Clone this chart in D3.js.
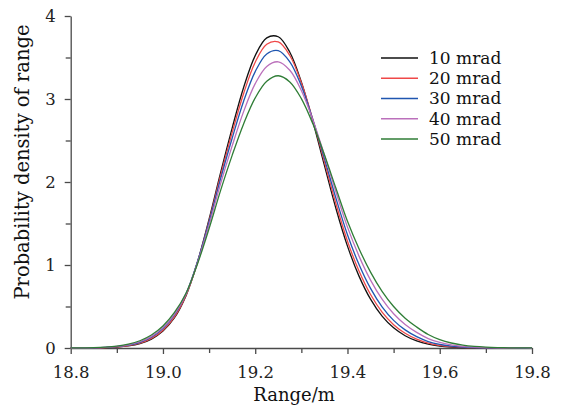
<!DOCTYPE html>
<html><head><meta charset="utf-8">
<script src="https://cdn.jsdelivr.net/npm/d3@7/dist/d3.min.js"></script>
<style>body{margin:0;background:#fff}svg{display:block}</style>
</head><body><svg id="c" width="564" height="405"></svg>
<script>
// Range values (m)
const xValues = [18.800,18.825,18.850,18.875,18.900,18.925,18.950,18.975,19.000,19.025,19.050,19.075,19.100,19.125,19.150,19.175,19.200,19.225,19.250,19.275,19.300,19.325,19.350,19.375,19.400,19.425,19.450,19.475,19.500,19.525,19.550,19.575,19.600,19.625,19.650,19.675,19.700,19.725,19.750,19.775,19.800];
// Probability density for each divergence angle
const density10 = [0.0002,0.0006,0.0017,0.0044,0.0107,0.0247,0.0532,0.1077,0.2046,0.3646,0.631,1.039,1.552,2.114,2.650,3.142,3.523,3.737,3.750,3.563,3.205,2.729,2.201,1.681,1.227,0.866,0.588,0.384,0.243,0.148,0.0854,0.0453,0.0229,0.0110,0.0051,0.0022,0.0009,0.0004,0.0001,0,0];
const density20 = [0.0003,0.0008,0.0021,0.0052,0.0124,0.0277,0.0583,0.1153,0.2147,0.3758,0.636,1.035,1.532,2.078,2.594,3.070,3.443,3.660,3.687,3.524,3.196,2.750,2.244,1.738,1.287,0.927,0.644,0.432,0.281,0.178,0.1064,0.0586,0.0308,0.0155,0.0074,0.0034,0.0015,0.0006,0.0002,0.0001,0];
const density30 = [0.0004,0.0011,0.0029,0.0069,0.0156,0.0335,0.0678,0.1298,0.2341,0.399,0.654,1.042,1.518,2.040,2.527,2.976,3.330,3.543,3.583,3.448,3.157,2.752,2.284,1.804,1.364,1.006,0.718,0.496,0.333,0.218,0.1361,0.0782,0.0430,0.0226,0.0114,0.0055,0.0025,0.0011,0.0005,0.0002,0.0001];
const density40 = [0.0006,0.0015,0.0037,0.0085,0.0185,0.0383,0.0752,0.1395,0.2455,0.409,0.652,1.028,1.484,1.982,2.435,2.851,3.185,3.393,3.448,3.346,3.102,2.747,2.324,1.879,1.456,1.107,0.818,0.588,0.412,0.283,0.1878,0.1141,0.0667,0.0374,0.0202,0.0105,0.0052,0.0025,0.0012,0.0005,0.0002];
const density50 = [0.0009,0.0022,0.0051,0.0112,0.0234,0.0463,0.0872,0.1559,0.2651,0.428,0.659,1.015,1.440,1.899,2.321,2.703,3.013,3.214,3.280,3.206,3.005,2.701,2.328,1.924,1.526,1.196,0.914,0.683,0.500,0.359,0.253,0.1626,0.1008,0.0603,0.0348,0.0194,0.0105,0.0054,0.0027,0.0013,0.0006];

const seriesNames = ["10 mrad","20 mrad","30 mrad","40 mrad","50 mrad"];
const seriesColors = ["#111111","#ef4848","#1f56b0","#bb70bb","#2f7d36"];
const seriesData = [density10,density20,density30,density40,density50];

const xTickValues = [18.8,19.0,19.2,19.4,19.6,19.8];
const xMinorTicks = [18.9,19.1,19.3,19.5,19.7];
const yTickValues = [0,1,2,3,4];
const yMinorTicks = [0.5,1.5,2.5,3.5];
const xTitle = "Range/m";
const yTitle = "Probability density of range";

const svg = d3.select("#c");
const FONT = "'DejaVu Serif', serif";
const axisColor = "#4a4a4a";

const x = d3.scaleLinear().domain([18.8,19.8]).range([70.7,532]);
const y = d3.scaleLinear().domain([0,4]).range([348,16]);

function styleAxis(g){
  g.select(".domain").attr("stroke",axisColor).attr("stroke-width",1.3);
  g.selectAll(".tick line").attr("stroke",axisColor).attr("stroke-width",1.3);
  g.selectAll(".tick text").attr("fill","#222").style("font-family",FONT);
}

// minor ticks
svg.append("g").attr("transform","translate(0,348)")
  .call(d3.axisBottom(x).tickValues(xMinorTicks).tickSize(5).tickFormat(""))
  .call(g=>{g.select(".domain").remove(); g.selectAll(".tick line").attr("stroke",axisColor).attr("stroke-width",1.3);});
svg.append("g").attr("transform","translate(70.7,0)")
  .call(d3.axisLeft(y).tickValues(yMinorTicks).tickSize(5).tickFormat(""))
  .call(g=>{g.select(".domain").remove(); g.selectAll(".tick line").attr("stroke",axisColor).attr("stroke-width",1.3);});

// major axes
svg.append("g").attr("transform","translate(0,348)")
  .call(d3.axisBottom(x).tickValues(xTickValues).tickFormat(d3.format(".1f")).tickSize(6).tickSizeOuter(0).tickPadding(12))
  .call(styleAxis)
  .call(g=>g.selectAll(".tick text").style("font-size","16.5px"));
svg.append("g").attr("transform","translate(70.7,0)")
  .call(d3.axisLeft(y).tickValues(yTickValues).tickFormat(d3.format("d")).tickSize(6).tickSizeOuter(0).tickPadding(9))
  .call(styleAxis)
  .call(g=>g.selectAll(".tick text").style("font-size","16.5px"));

// curves
const line = d3.line().x((d,i)=>x(xValues[i])).y(d=>y(d)).curve(d3.curveCatmullRom);
seriesData.forEach((s,k)=>{
  svg.append("path").datum(s).attr("d",line).attr("fill","none")
    .attr("stroke",seriesColors[k]).attr("stroke-width",1.3);
});

// legend
const legY = d3.scalePoint().domain(seriesNames).range([58,139]);
seriesNames.forEach((n,k)=>{
  svg.append("line").attr("x1",381).attr("x2",418).attr("y1",legY(n)).attr("y2",legY(n))
    .attr("stroke",seriesColors[k]).attr("stroke-width",1.5);
  svg.append("text").attr("x",429).attr("y",legY(n)).attr("dy","0.35em")
    .style("font-family",FONT).style("font-size","17px").attr("fill","#111").text(n);
});

// titles
svg.append("text").attr("x",294).attr("y",401).attr("text-anchor","middle")
  .style("font-family",FONT).style("font-size","18px").attr("fill","#111").text(xTitle);
svg.append("text").attr("transform","translate(29,162) rotate(-90)").attr("text-anchor","middle")
  .style("font-family",FONT).style("font-size","19.5px").attr("fill","#111").text(yTitle);
</script>
</body></html>
